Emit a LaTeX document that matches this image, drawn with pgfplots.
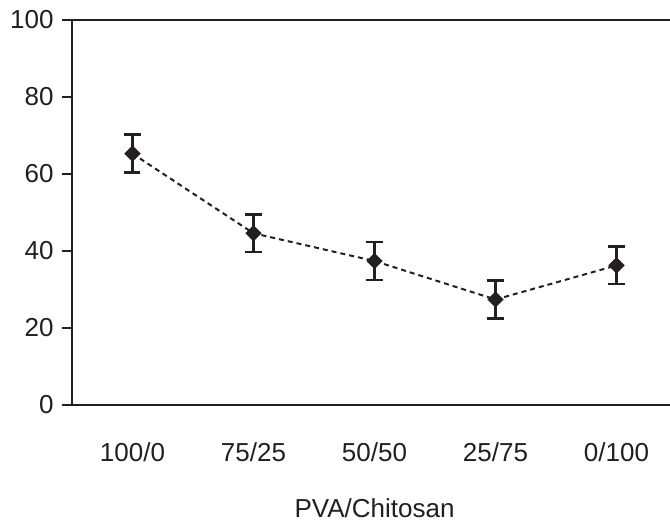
\documentclass[border=0pt]{standalone}
\usepackage{fontspec}
\setmainfont{Liberation Sans}
\usepackage{pgfplots}
\pgfplotsset{compat=1.18}
\definecolor{ink}{RGB}{35,31,32}
\begin{document}
\begin{tikzpicture}
\begin{axis}[
  scale only axis,
  width=605bp, height=385bp,
  xmin=-0.5, xmax=4.5, ymin=0, ymax=100,
  xtick={0,1,2,3,4},
  xticklabels={100/0,75/25,50/50,25/75,0/100},
  ytick={0,20,40,60,80,100},
  ytick pos=left,
  tick align=outside,
  major tick length=10bp,
  xtick style={draw=none},
  ytick style={line width=2.2bp, ink},
  axis line style={line width=2.2bp, ink},
  tick label style={font=\fontsize{26bp}{31bp}\selectfont, text=ink},
  /pgf/number format/assume math mode=true,
  xticklabel style={yshift=-24bp},
  yticklabel style={xshift=-5bp},
  xlabel={PVA/Chitosan},
  xlabel style={font=\fontsize{26bp}{31bp}\selectfont, text=ink, at={(axis description cs:0.5,0)}, anchor=north, yshift=-90bp},
  clip=false,
]
\addplot[ink, line width=2bp, dash pattern=on 5bp off 4bp,
  mark=square*, mark size=4.8bp, mark options={solid, rotate=45, fill=ink, draw=ink},
  error bars/.cd, y dir=both, y explicit,
  error bar style={solid, line width=2.6bp, ink},
  error mark=|,
  error mark options={solid, mark size=8bp, line width=2.6bp, ink}]
coordinates {
(0,65.3) +- (0,4.95)
(1,44.6) +- (0,4.85)
(2,37.4) +- (0,4.9)
(3,27.4) +- (0,4.9)
(4,36.25) +- (0,4.85)
};
\end{axis}
\pgfresetboundingbox
\path[use as bounding box] (-72bp,-118bp) rectangle (598bp,405bp);
\end{tikzpicture}
\end{document}
